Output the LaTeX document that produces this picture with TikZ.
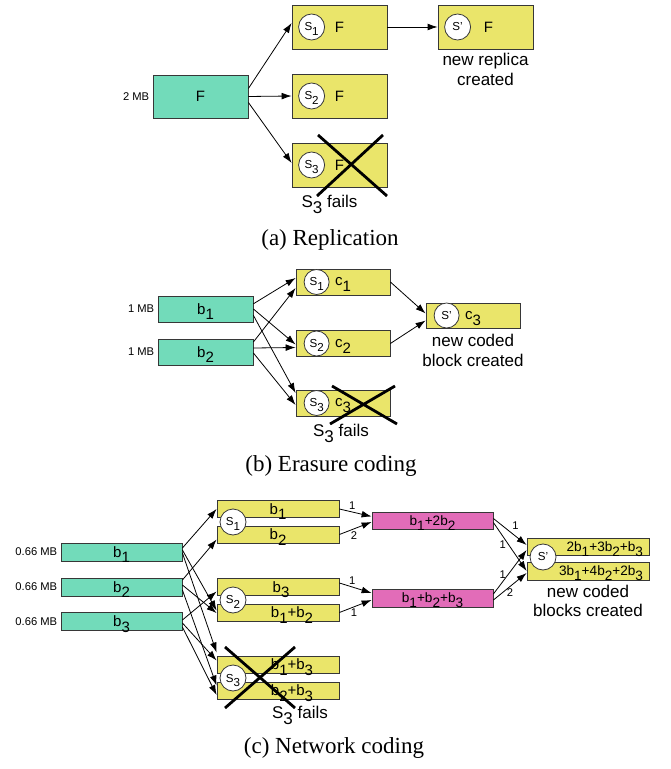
\documentclass[tikz,border=0pt]{standalone}
\usepackage{fontspec}
\setmainfont{Liberation Serif}
\setsansfont{Liberation Sans}
\usetikzlibrary{positioning,arrows.meta}

\definecolor{blockgreen}{RGB}{114,219,186}
\definecolor{blockyellow}{RGB}{234,229,106}
\definecolor{blockpink}{RGB}{226,108,184}
\definecolor{edgegray}{RGB}{55,55,55}

\newcommand{\lowidx}[1]{\raisebox{-0.7ex}[0pt][0pt]{#1}}
\newcommand{\sprime}{S{\char"0027}}

\begin{document}
\begin{tikzpicture}[x=0.5pt,y=-0.5pt,>={Latex[length=5pt,width=3.4pt]},thin,
    file node/.style={draw=edgegray,fill=blockgreen,inner sep=0pt,font=\sffamily\fontsize{7.5}{8}\selectfont},
    store node/.style={draw=edgegray,fill=blockyellow,inner sep=0pt,font=\sffamily\fontsize{7.5}{8}\selectfont},
    mix node/.style={draw=edgegray,fill=blockpink,inner sep=0pt,font=\sffamily\fontsize{6.8}{8}\selectfont},
    server node/.style={circle,draw=edgegray,fill=white,minimum size=13pt,inner sep=0pt,font=\sffamily\fontsize{5.8}{6}\selectfont},
    size label/.style={font=\sffamily\fontsize{5.6}{6}\selectfont,inner sep=1.5pt},
    note/.style={align=center,inner sep=1pt,font=\sffamily\fontsize{8.5}{10}\selectfont},
    coef/.style={font=\sffamily\fontsize{5.6}{6}\selectfont,inner sep=1pt},
    fail cross/.style={line width=1.4pt},
    caption/.style={font=\fontsize{11.5}{13}\selectfont}]
\useasboundingbox (0,0) rectangle (670,769);

% (a) replication
\node[file node,minimum width=47.5pt,minimum height=21.5pt,label={[size label]left:2 MB}] (F) at (200.5,96.5) {F};
\node[store node,minimum width=47.5pt,minimum height=22pt] (rs1) at (339.5,27) {F};
\node[store node,minimum width=47.5pt,minimum height=22pt,node distance=34.5pt] (rs2) [below of = rs1] {F};
\node[store node,minimum width=47.5pt,minimum height=22pt,node distance=34.5pt] (rs3) [below of = rs2] {F};
\node[store node,minimum width=47.5pt,minimum height=22pt,node distance=73pt] (rnew) [right of = rs1] {\hspace*{3pt}F};
\node[server node] (ra1) at ([xshift=10pt]rs1.west) {S\lowidx{1}};
\node[server node] (ra2) at ([xshift=10pt]rs2.west) {S\lowidx{2}};
\node[server node] (ra3) at ([xshift=10pt]rs3.west) {S\lowidx{3}};
\node[server node] (ranew) at ([xshift=10pt]rnew.west) {\sprime};
\draw[fail cross] (318,135) -- (387,196) (383,135) -- (317,196);
\node[note] (rfail) [below=2.5pt of rs3, xshift=-5pt] {S\lowidx{3} fails};
\node[note] (rtext) [below=0.5pt of rnew] {new replica\\created};

\path[->]
    ([yshift=4pt]F.east) edge ([yshift=2pt]rs1.west)
    (F.east) edge (rs2.west)
    ([yshift=-3pt]F.east) edge ([yshift=1pt]rs3.west)
    (rs1.east) edge (rnew.west);

\node[caption] (capa) at (330,240) {(a) Replication};

% (b) erasure coding
\node[file node,minimum width=47.5pt,minimum height=13pt,label={[size label]left:1 MB}] (eb1) at (205.5,309) {b\lowidx{1}};
\node[file node,minimum width=47.5pt,minimum height=13pt,node distance=21.5pt,label={[size label]left:1 MB}] (eb2) [below of = eb1] {b\lowidx{2}};
\node[store node,minimum width=47pt,minimum height=13pt] (es1) at (343,282) {c\lowidx{1}};
\node[store node,minimum width=47pt,minimum height=13pt] (es2) at (343,343.5) {c\lowidx{2}};
\node[store node,minimum width=47pt,minimum height=13pt] (es3) at (343,403) {c\lowidx{3}};
\node[store node,minimum width=47pt,minimum height=12.5pt] (enew) at (473,315.5) {c\lowidx{3}};
\node[server node,minimum size=12.5pt] (ea1) at ([xshift=10.5pt]es1.west) {S\lowidx{1}};
\node[server node,minimum size=12.5pt] (ea2) at ([xshift=10.5pt]es2.west) {S\lowidx{2}};
\node[server node,minimum size=12.5pt] (ea3) at ([xshift=10.5pt]es3.west) {S\lowidx{3}};
\node[server node,minimum size=12.5pt] (eanew) at ([xshift=10.5pt]enew.west) {\sprime};
\draw[fail cross] (332,386) -- (397,424) (395,386) -- (330,424);
\node[note] (efail) [below=2.5pt of es3, xshift=-1pt] {S\lowidx{3} fails};
\node[note] (etext) [below=1.5pt of enew] {new coded\\block created};

\path[->]
    ([yshift=2.6pt]eb1.east) edge ([yshift=2pt]es1.west)
    (eb1.east) edge ([yshift=-0.5pt]es2.west)
    ([yshift=-3.2pt]eb1.east) edge ([yshift=5pt]es3.west)
    ([yshift=5pt]eb2.east) edge ([yshift=-3pt]es1.west)
    ([yshift=2pt]eb2.east) edge ([yshift=-2pt]es2.west)
    ([yshift=-0.5pt]eb2.east) edge ([yshift=-1pt]es3.west)
    (es1.east) edge ([yshift=1pt]enew.west)
    (es2.east) edge ([yshift=-2.5pt]enew.west);

\node[caption] (capb) at (331,466) {(b) Erasure coding};

% (c) network coding
\node[file node,minimum width=60.5pt,minimum height=9pt,label={[size label]left:0.66 MB}] (nb1) at (121.5,552) {b\lowidx{1}};
\node[file node,minimum width=60.5pt,minimum height=9pt,node distance=17.5pt,label={[size label]left:0.66 MB}] (nb2) [below of = nb1] {b\lowidx{2}};
\node[file node,minimum width=60.5pt,minimum height=9pt,node distance=17.25pt,label={[size label]left:0.66 MB}] (nb3) [below of = nb2] {b\lowidx{3}};

\node[store node,minimum width=61pt,minimum height=8.5pt] (ns1a) at (278,509) {b\lowidx{1}};
\node[store node,minimum width=61pt,minimum height=8.5pt] (ns1b) at (278,534.5) {b\lowidx{2}};
\node[store node,minimum width=61pt,minimum height=8.5pt] (ns2a) at (278,587) {\hspace*{3pt}b\lowidx{3}};
\node[store node,minimum width=61pt,minimum height=8.5pt] (ns2b) at (278,612.5) {\hspace*{14pt}b\lowidx{1}+b\lowidx{2}};
\node[store node,minimum width=61pt,minimum height=8.5pt] (ns3a) at (278,664.5) {\hspace*{14pt}b\lowidx{1}+b\lowidx{3}};
\node[store node,minimum width=61pt,minimum height=8.5pt] (ns3b) at (278,690.5) {\hspace*{14pt}b\lowidx{2}+b\lowidx{3}};
\node[server node] (na1) at (233,522) {S\lowidx{1}};
\node[server node] (na2) at (233,600) {S\lowidx{2}};
\node[server node] (na3) at (233,678) {S\lowidx{3}};
\draw[fail cross] (225,647) -- (295,708) (295,647) -- (225,708);
\node[note] (nfail) [below=2pt of ns3b, xshift=11pt] {S\lowidx{3} fails};

\node[mix node,minimum width=60.5pt,minimum height=8.5pt] (nm1) at (432.5,520.5) {b\lowidx{1}+2b\lowidx{2}};
\node[mix node,minimum width=60.5pt,minimum height=9pt] (nm2) at (432.5,598) {b\lowidx{1}+b\lowidx{2}+b\lowidx{3}};

\node[store node,minimum width=61pt,minimum height=8.5pt,text width=55pt,align=right,font=\sffamily\fontsize{6.8}{8}\selectfont] (nnewa) at (588,546.5) {2b\lowidx{1}+3b\lowidx{2}+b\lowidx{3}};
\node[store node,minimum width=61pt,minimum height=9pt,text width=55pt,align=right,font=\sffamily\fontsize{6.8}{8}\selectfont] (nnewb) at (588,571) {3b\lowidx{1}+4b\lowidx{2}+2b\lowidx{3}};
\node[server node] (nanew) at (543,557) {\sprime};
\node[note,font=\sffamily\fontsize{8.5}{9.5}\selectfont] (ntext) [below=1pt of nnewb] {new coded\\blocks created};

\path[->]
    ([yshift=2pt]nb1.east) edge (ns1a.west)
    ([yshift=1pt]nb1.east) edge ([yshift=1pt]ns2b.west)
    ([yshift=-0.5pt]nb1.east) edge ([yshift=6pt]ns3a.west)
    ([yshift=3.5pt]nb2.east) edge ([yshift=-2.5pt]ns1b.west)
    ([yshift=1pt]nb2.east) edge ([yshift=-0.3pt]ns2b.west)
    ([yshift=-1.5pt]nb2.east) edge ([yshift=2.5pt]ns3b.west)
    ([yshift=0.75pt]nb3.east) edge ([yshift=-2.25pt]ns2a.west)
    ([yshift=-0.75pt]nb3.east) edge ([yshift=2pt]ns3a.west)
    ([yshift=-2.75pt]nb3.east) edge ([yshift=-2.25pt]ns3b.west);

\path[->,every node/.style={coef}]
    (ns1a.east) edge node[pos=.4,above] {1} ([yshift=2pt]nm1.west)
    (ns1b.east) edge node[pos=.45,below] {2} ([yshift=-0.75pt]nm1.west)
    ([yshift=2pt]ns2a.east) edge node[pos=.4,above] {1} ([yshift=2.5pt]nm2.west)
    (ns2b.east) edge node[pos=.45,below] {1} ([yshift=-1pt]nm2.west)
    ([yshift=1pt]nm1.east) edge node[pos=.5,above right] {1} ([yshift=0.75pt]nnewa.west)
    ([yshift=-1pt]nm1.east) edge node[pos=.45,left] {1} (nnewb.west)
    ([yshift=2pt]nm2.east) edge node[pos=.45,left] {1} ([yshift=-1.75pt]nnewa.west)
    ([yshift=-1pt]nm2.east) edge node[pos=.5,below] {2} ([yshift=-1pt]nnewb.west);

\node[caption] (capc) at (334,748) {(c) Network coding};
\end{tikzpicture}
\end{document}
